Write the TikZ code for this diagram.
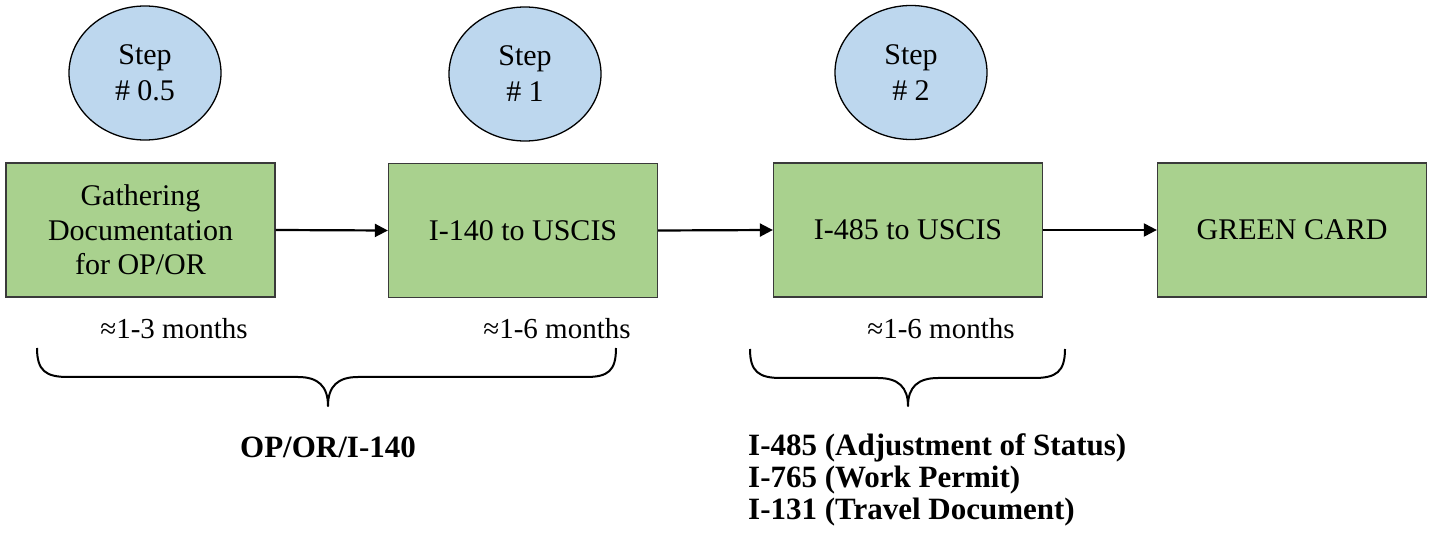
\documentclass[tikz,border=0pt]{standalone}
\usepackage{fontspec}
\setmainfont{Liberation Serif}
\usetikzlibrary{arrows.meta,shapes.geometric}
\definecolor{stepblue}{HTML}{BDD7EE}
\definecolor{boxgreen}{HTML}{A9D18E}
\definecolor{boxedge}{HTML}{3A3A3A}
\begin{document}
\begin{tikzpicture}[x=1pt,y=-1pt,
  stepell/.style={ellipse, draw=black, line width=1.3pt, fill=stepblue,
    minimum width=152pt, minimum height=134pt, inner sep=0pt, align=center,
    font=\fontsize{30}{36}\selectfont},
  procbox/.style={rectangle, draw=boxedge, line width=1.3pt, fill=boxgreen,
    minimum width=269pt, minimum height=134pt, inner sep=0pt, align=center,
    font=\fontsize{30}{34.5}\selectfont},
  flow/.style={line width=2.2pt, -{Triangle[length=13pt,width=13pt]}},
  months/.style={inner sep=0pt, font=\fontsize{29}{30}\selectfont},
  bracepath/.style={line width=2pt, line join=round},
  boldnote/.style={inner sep=0pt, align=left, font=\bfseries\fontsize{31}{32}\selectfont}]
\useasboundingbox (0,0) rectangle (1432,534);
% step ellipses
\node[stepell] (s05) at (145,73) {Step\\\# 0.5};
\node[stepell] (s1) at (525,74) {Step\\\# 1};
\node[stepell] (s2) at (911,72.5) {Step\\\# 2};
% process boxes
\node[procbox] (b1) at (140.5,230) {Gathering\\Documentation\\for OP/OR};
\node[procbox] (b2) at (523,230.5) {I-140 to USCIS};
\node[procbox] (b3) at (908,230) {I-485 to USCIS};
\node[procbox] (b4) at (1292,230) {GREEN CARD};
% arrows
\draw[flow] (b1.east) -- (b2.west);
\draw[flow] (b2.east) -- (b3.west);
\draw[flow] (b3.east) -- (b4.west);
% durations
\node[months] (m1) at (174,329) {≈1-3 months};
\node[months] (m2) at (557,329) {≈1-6 months};
\node[months] (m3) at (941,329) {≈1-6 months};
% braces
\draw[bracepath] (37,348) .. controls (37,371) and (46,377) .. (68,377)
  -- (298,377) .. controls (318,377) and (328,386) .. (328,406)
  .. controls (328,386) and (338,377) .. (358,377)
  -- (586,377) .. controls (608,377) and (616,371) .. (616,348);
\draw[bracepath] (750,349) .. controls (750,372) and (759,378) .. (781,378)
  -- (878,378) .. controls (898,378) and (908,387) .. (908,406)
  .. controls (908,387) and (918,378) .. (938,378)
  -- (1034,378) .. controls (1056,378) and (1065,372) .. (1065,349);
% labels
\node[boldnote] (l1) at (328,447) {OP/OR/I-140};
\node[boldnote, anchor=north west] (l2) at (748,433) {I-485 (Adjustment of Status)\\I-765 (Work Permit)\\I-131 (Travel Document)};
\end{tikzpicture}
\end{document}
